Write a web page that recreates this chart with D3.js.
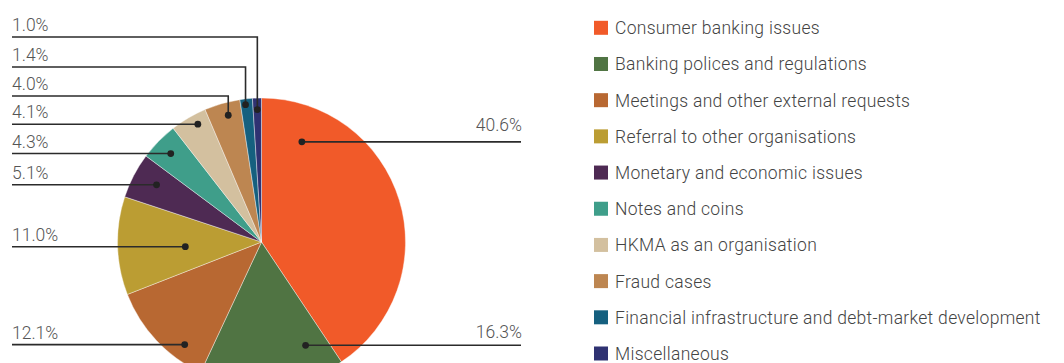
<!DOCTYPE html>
<html>
<head>
<meta charset="utf-8">
<script src="https://cdn.jsdelivr.net/npm/d3@7"></script>
<style>
  html, body { margin: 0; padding: 0; background: #fff; }
  svg { display: block; }
  text { font-family: Roboto, "Noto Sans", sans-serif; font-weight: 300; }
</style>
</head>
<body>
<svg id="chart" width="1064" height="363"></svg>
<script>
// Enquiry categories and their shares (%)
const categories = [
  "Consumer banking issues",
  "Banking polices and regulations",
  "Meetings and other external requests",
  "Referral to other organisations",
  "Monetary and economic issues",
  "Notes and coins",
  "HKMA as an organisation",
  "Fraud cases",
  "Financial infrastructure and debt-market development",
  "Miscellaneous"
];
const shares = [40.6, 16.3, 12.1, 11.0, 5.1, 4.3, 4.1, 4.0, 1.4, 1.0];
const colors = [
  "#f15a29", "#507443", "#b86832", "#bb9d33", "#4e2a53",
  "#3f9e8a", "#d3c09f", "#bd8651", "#15607f", "#2f3272"
];

// Leader placement per slice: position along slice (t), radius fraction (k),
// side of the label, and for "top" labels the y of the horizontal run.
const leaders = [
  { t: 0.15, k: 0.75, side: "right", gap: 11 },
  { t: 0.18, k: 0.78, side: "right", gap: 7 },
  { t: 0.27, k: 0.89, side: "left", gap: 6 },
  { t: 0.45, k: 0.53, side: "left", gap: 6 },
  { t: 0.56, k: 0.83, side: "left", gap: 6 },
  { t: 0.49, k: 0.88, side: "left", gap: 6 },
  { t: 0.64, k: 0.93, side: "left", gap: 6 },
  { t: 0.58, k: 0.91, side: "top", runY: 96, gap: 6 },
  { t: 0.40, k: 0.96, side: "top", runY: 67, gap: 6 },
  { t: 0.50, k: 0.92, side: "top", runY: 37, gap: 6 }
];

const svg = d3.select("#chart");
const cx = 261.5, cy = 242, radius = 144;
const leftX = 12, rightX = 522;

const data = categories.map((c, i) => ({ name: c, value: shares[i], color: colors[i], lead: leaders[i] }));

const pie = d3.pie().value(d => d.value).sort(null);
const arc = d3.arc().innerRadius(0).outerRadius(radius);
const arcs = pie(data);

const g = svg.append("g").attr("transform", `translate(${cx},${cy})`);
g.selectAll("path.slice")
  .data(arcs)
  .join("path")
  .attr("class", "slice")
  .attr("d", arc)
  .attr("fill", d => d.data.color)
  .attr("stroke", "#fff")
  .attr("stroke-width", 0.4);

// Leader lines, dots and percentage labels
const fmt = d3.format(".1f");
const ann = svg.append("g");
arcs.forEach(a => {
  const L = a.data.lead;
  const ang = a.startAngle + L.t * (a.endAngle - a.startAngle);
  const r = L.k * radius;
  const px = cx + r * Math.sin(ang);
  const py = cy - r * Math.cos(ang);
  let path, tx, ty, anchor;
  if (L.side === "right") {
    path = `M${px},${py}H${rightX - 1}`;
    tx = rightX; ty = py - L.gap; anchor = "end";
  } else if (L.side === "left") {
    path = `M${leftX},${py}H${px}`;
    tx = leftX; ty = py - L.gap; anchor = "start";
  } else {
    path = `M${leftX},${L.runY}H${px}V${py}`;
    tx = leftX; ty = L.runY - L.gap; anchor = "start";
  }
  ann.append("path")
    .attr("d", path)
    .attr("fill", "none")
    .attr("stroke", "#2b2b2b")
    .attr("stroke-width", 1.6);
  ann.append("circle")
    .attr("cx", px).attr("cy", py).attr("r", 3.4)
    .attr("fill", "#222");
  ann.append("text")
    .attr("x", tx).attr("y", ty)
    .attr("text-anchor", anchor)
    .attr("font-size", 17.5)
    .attr("fill", "#555")
    .text(fmt(a.data.value) + "%");
});

// Legend
const legendY = d3.scalePoint().domain(categories).range([34.3, 360]);
const legend = svg.append("g");
const rows = legend.selectAll("g.row")
  .data(data)
  .join("g")
  .attr("class", "row")
  .attr("transform", d => `translate(594,${legendY(d.name)})`);
rows.append("rect")
  .attr("x", 0).attr("y", -13.5)
  .attr("width", 14).attr("height", 14)
  .attr("fill", d => d.color);
rows.append("text")
  .attr("x", 21).attr("y", 0)
  .attr("font-size", 17.5)
  .attr("letter-spacing", 0.3)
  .attr("fill", "#444")
  .text(d => d.name);
</script>
</body>
</html>
